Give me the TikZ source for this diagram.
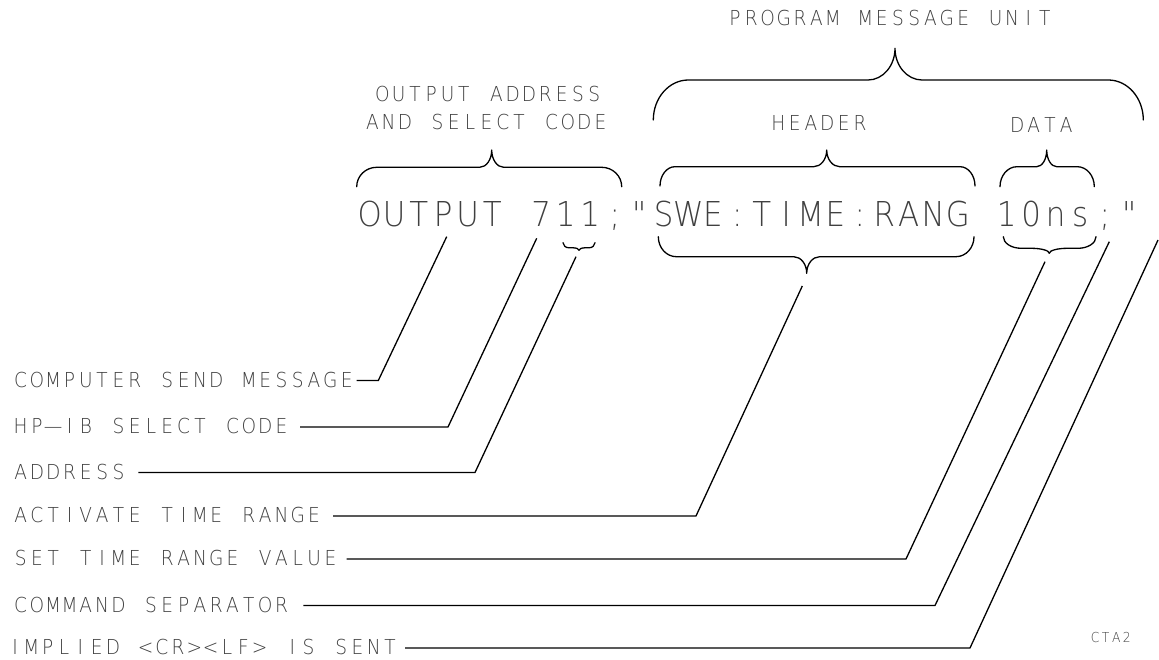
\documentclass[tikz,border=0pt]{standalone}
\usepackage{fontspec}
\IfFontExistsTF{DejaVu Sans ExtraLight}
  {\newfontfamily\plotfont{DejaVu Sans ExtraLight}[FakeStretch=0.9]}
  {\newfontfamily\plotfont{DejaVu Sans}[FakeStretch=0.9]}

% fixed-pitch lettering: every character sits centred in a cell of equal width
\ExplSyntaxOn
\NewDocumentCommand\cells{mm}{\tl_map_inline:nn{#2}{\makebox[#1][c]{##1}}}
\ExplSyntaxOff

% curly brace: {x1}{x2}{y of ends}{y of bar}{x tip}{y tip}{end radius}{tip radius}
\newcommand\curlybrace[8]{%
  \draw[brc] ({#1},{#3})
    .. controls ({#1},{#3+0.552*(#4-#3)}) and ({#1+0.448*#7},{#4}) .. ({#1+#7},{#4})
    -- ({#5-#8},{#4})
    .. controls ({#5-0.448*#8},{#4}) and ({#5},{#6+0.552*(#4-#6)}) .. ({#5},{#6})
    .. controls ({#5},{#6+0.552*(#4-#6)}) and ({#5+0.448*#8},{#4}) .. ({#5+#8},{#4})
    -- ({#2-#7},{#4})
    .. controls ({#2-0.448*#7},{#4}) and ({#2},{#3+0.552*(#4-#3)}) .. ({#2},{#3});}

\definecolor{ink}{gray}{0.25}

\tikzset{
  brc/.style={line width=1.3pt, line join=round, line cap=round},
  lead/.style={line width=1.3pt, line join=miter},
  lbl/.style={inner sep=0pt, outer sep=0pt, text=ink,
    font=\plotfont\fontsize{20.6}{24}\selectfont},
  side/.style={lbl, anchor=west, text height=13pt, text depth=0pt},
  big/.style={inner sep=0pt, outer sep=0pt, text=ink, anchor=base west,
    font=\plotfont\fontsize{34.3}{40}\selectfont},
  tag/.style={inner sep=0pt, outer sep=0pt, text=ink, anchor=base west,
    font=\plotfont\fontsize{13.7}{16}\selectfont},
}

\begin{document}
\begin{tikzpicture}[x=1pt,y=-1pt]
\fill[white] (0,0) rectangle (1159,660);
\useasboundingbox (0,0) rectangle (1159,660);

% the program line
\node[big] (cmd) at (357.5,227)
  {\cells{24.5pt}{OUTPUT~711;"SWE:TIME:RANG~10ns;"}};

% titles above the braces
\node[lbl, anchor=base west] (pmu) at (726.8,26) {\cells{16.3pt}{PROGRAM~MESSAGE~UNIT}};
\node[lbl, anchor=base west] (oa1) at (374.2,101.7) {\cells{16.3pt}{OUTPUT~ADDRESS}};
\node[lbl, anchor=base west] (oa2) at (364.2,130) {\cells{16.3pt}{AND~SELECT~CODE}};
\node[lbl, anchor=base west] (hdr) at (770.3,131) {\cells{16.3pt}{HEADER}};
\node[lbl, anchor=base west] (dat) at (1009.2,133) {\cells{16.3pt}{DATA}};

% braces over the program line
\curlybrace{653.3}{1143.3}{120}{80}{895}{48.3}{35}{27}
\curlybrace{356.7}{621.7}{186.7}{167.3}{491.7}{150}{20}{12}
\curlybrace{660}{975}{186}{166.7}{826.7}{150}{15}{13}
\curlybrace{1000}{1094.3}{186.7}{166.7}{1046.7}{150}{17}{10}

% braces under the program line
\curlybrace{563}{595}{242.7}{247.8}{579}{250.3}{6}{6}
\curlybrace{658.3}{974}{236.7}{256.7}{806.7}{273.3}{18}{13}
\curlybrace{1003.3}{1096}{236.7}{248.3}{1049.3}{253.3}{18}{18}

% explanation labels
\node[side] (l1) at (12.5,380.5) {\cells{16.3pt}{COMPUTER~SEND~MESSAGE}};
\node[side] (l2) at (12.5,427)   {\cells{16.3pt}{HP—IB~SELECT~CODE}};
\node[side] (l3) at (12.5,472.5) {\cells{16.3pt}{ADDRESS}};
\node[side] (l4) at (12.5,516)   {\cells{16.3pt}{ACTIVATE~TIME~RANGE}};
\node[side] (l5) at (12.5,559)   {\cells{16.3pt}{SET~TIME~RANGE~VALUE}};
\node[side] (l6) at (12.5,605.5) {\cells{16.3pt}{COMMAND~SEPARATOR}};
\node[side] (l7) at (7,648)      {\cells{16.3pt}{IMPLIED~<CR><LF>~IS~SENT}};

\node[tag] (fig) at (1090,642) {\cells{10.5pt}{CTA2}};

% leader bends and the points they reach
\coordinate (b1) at (378.3,380.5);  \coordinate (t1) at (446.7,236.7);
\coordinate (b2) at (448,427);      \coordinate (t2) at (536.7,238.3);
\coordinate (b3) at (475,472.5);    \coordinate (t3) at (576,256.7);
\coordinate (b4) at (696,516);      \coordinate (t4) at (802.3,286);
\coordinate (b5) at (906,559);      \coordinate (t5) at (1045,261.7);
\coordinate (b6) at (935,605.5);    \coordinate (t6) at (1109.3,241.7);
\coordinate (b7) at (970,648);      \coordinate (t7) at (1158,240);

\draw[lead] ([xshift=1.9pt]l1.east) -- (b1) -- (t1);
\draw[lead] ([xshift=10.4pt]l2.east) -- (b2) -- (t2);
\draw[lead] ([xshift=11.7pt]l3.east) -- (b3) -- (t3);
\draw[lead] ([xshift=10.8pt]l4.east) -- (b4) -- (t4);
\draw[lead] ([xshift=8.2pt]l5.east) -- (b5) -- (t5);
\draw[lead] ([xshift=13.7pt]l6.east) -- (b6) -- (t6);
\draw[lead] ([xshift=6.8pt]l7.east) -- (b7) -- (t7);
\end{tikzpicture}
\end{document}
